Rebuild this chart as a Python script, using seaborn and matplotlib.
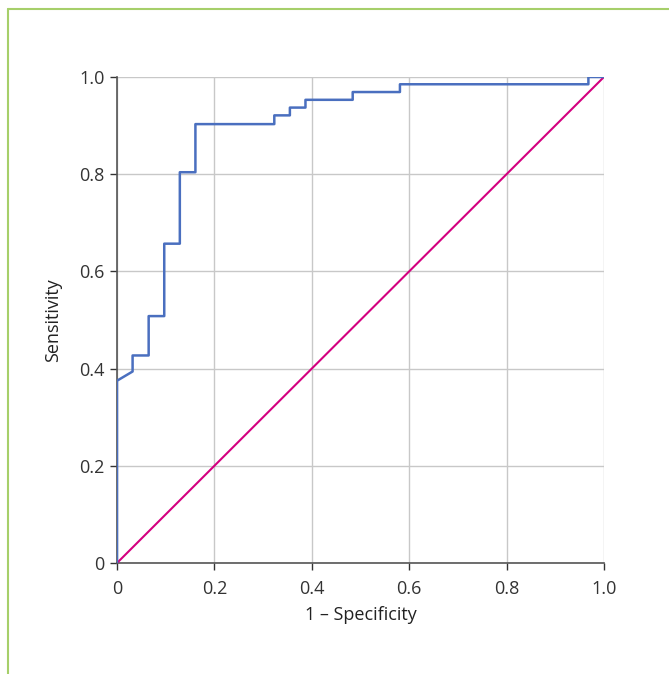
import numpy as np
import pandas as pd
import matplotlib
matplotlib.use("Agg")
import matplotlib.pyplot as plt
import seaborn as sns
from matplotlib.lines import Line2D

# --- ROC curve points ---
fpr = [0, 0, 0.032, 0.032, 0.065, 0.065, 0.097, 0.097, 0.129, 0.129, 0.161, 0.161,
       0.323, 0.323, 0.355, 0.355, 0.387, 0.387, 0.484, 0.484, 0.581, 0.581,
       0.968, 0.968, 1.0]
tpr = [0, 0.375, 0.394, 0.427, 0.427, 0.508, 0.508, 0.657, 0.657, 0.804, 0.804, 0.903,
       0.903, 0.921, 0.921, 0.937, 0.937, 0.953, 0.953, 0.969, 0.969, 0.985,
       0.985, 1.0, 1.0]
ref_line = [0, 1]
ticks = [0, 0.2, 0.4, 0.6, 0.8, 1.0]
tick_labels = ["0", "0.2", "0.4", "0.6", "0.8", "1.0"]

sns.set_style("white")
plt.rcParams["font.family"] = ["Open Sans", "DejaVu Sans"]

fig = plt.figure(figsize=(6.69, 6.74), dpi=100)
ax = fig.add_axes([0.1749, 0.1647, 0.7279, 0.7211])

roc = pd.DataFrame({"fpr": fpr, "tpr": tpr})
ax.plot(ref_line, ref_line, color="#d4007f", lw=1.5, zorder=3)
sns.lineplot(data=roc, x="fpr", y="tpr", sort=False, estimator=None,
             color="#4a6fbf", lw=1.8, ax=ax, zorder=4)

ax.set_xlim(0, 1)
ax.set_ylim(0, 1)
ax.set_xticks(ticks)
ax.set_xticklabels(tick_labels)
ax.set_yticks(ticks)
ax.set_yticklabels(tick_labels)
ax.grid(True, color="#c8c8c8", lw=1)
ax.set_axisbelow(True)
for s in ["top", "right"]:
    ax.spines[s].set_visible(False)
for s in ["left", "bottom"]:
    ax.spines[s].set_color("#555555")
    ax.spines[s].set_linewidth(1.2)
ax.tick_params(axis="both", direction="out", length=5, width=1, color="#333333",
               labelsize=13, labelcolor="#333333", bottom=True, left=True)
ax.tick_params(axis="x", pad=7)
ax.tick_params(axis="y", pad=4)
ax.set_xlabel("1 – Specificity", fontsize=13, color="#222222", labelpad=6)
ax.set_ylabel("Sensitivity", fontsize=13, color="#222222", labelpad=12)

# green frame on the figure (left and top)
fig.add_artist(Line2D([7.5 / 669, 7.5 / 669], [0, 1 - 9 / 674], transform=fig.transFigure,
                      color="#a6cf6a", lw=1.5))
fig.add_artist(Line2D([7.5 / 669, 1], [1 - 9 / 674, 1 - 9 / 674], transform=fig.transFigure,
                      color="#a6cf6a", lw=1.5))

fig.savefig("out.png", dpi=100)
